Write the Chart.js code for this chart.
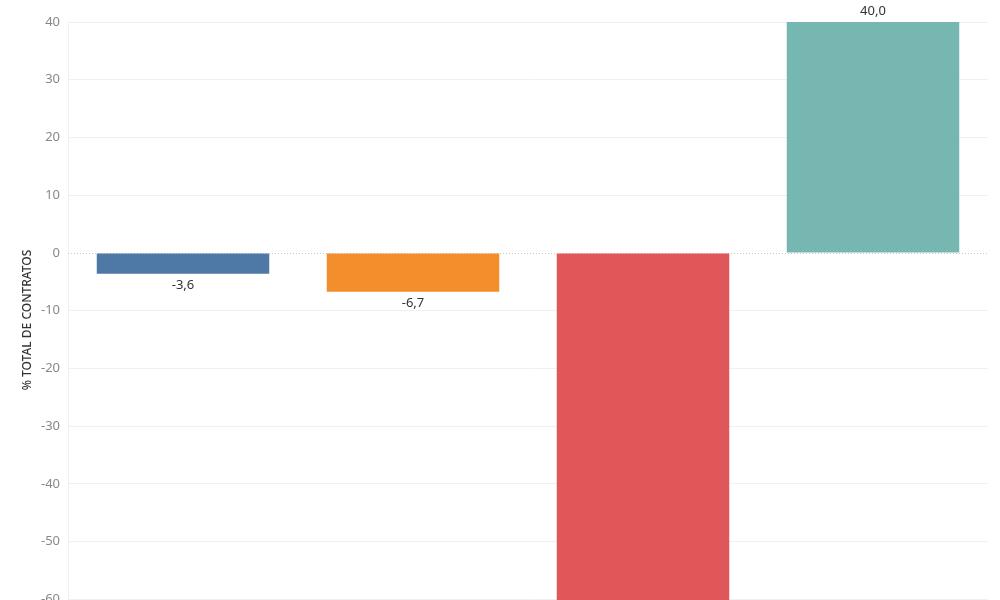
<!DOCTYPE html>
<html>
<head>
<meta charset="utf-8">
<script src="https://cdn.jsdelivr.net/npm/chart.js@4.4.1/dist/chart.umd.min.js"></script>
<style>
  html, body { margin: 0; padding: 0; background: #fff; overflow: hidden; }
  #wrap { width: 1000px; height: 673px; }
</style>
</head>
<body>
<div id="wrap"><canvas id="bars"></canvas></div>
<script>
// values (the red bar runs past the bottom edge)
const categories = ['A', 'B', 'C', 'D'];
const values = [-3.6, -6.7, -75.0, 40.0];
const barColors = ['#4e79a7', '#f28e2b', '#e15759', '#76b7b2'];
const yTicks = [40, 30, 20, 10, 0, -10, -20, -30, -40, -50, -60, -70];
const yTitle = '% TOTAL DE CONTRATOS';

const fmt = v => v.toFixed(1).replace('.', ',');

// dotted zero line, value labels, axis title (centred on the visible part)
const extras = {
  id: 'extras',
  beforeDatasetsDraw(chart) {
    const { ctx, chartArea, scales } = chart;
    const y0 = Math.round(scales.y.getPixelForValue(0)) + 0.5;
    ctx.save();
    ctx.strokeStyle = '#c8c8c8';
    ctx.lineWidth = 1;
    ctx.setLineDash([1, 2]);
    ctx.beginPath();
    ctx.moveTo(chartArea.left, y0);
    ctx.lineTo(chartArea.right, y0);
    ctx.stroke();
    ctx.restore();
  },
  afterDatasetsDraw(chart) {
    const { ctx } = chart;
    const meta = chart.getDatasetMeta(0);
    ctx.save();
    ctx.font = '13px "Noto Sans", Lato, sans-serif';
    ctx.fillStyle = '#333';
    ctx.textAlign = 'center';
    ctx.textBaseline = 'middle';
    meta.data.forEach((bar, i) => {
      const v = values[i];
      const y = v < 0 ? bar.y + 12 : bar.y - 11;
      ctx.fillText(fmt(v), bar.x, y);
    });
    ctx.restore();

    ctx.save();
    ctx.translate(28, 320);
    ctx.rotate(-Math.PI / 2);
    ctx.font = '500 12px "Noto Sans", Lato, sans-serif';
    ctx.fillStyle = '#333';
    ctx.textAlign = 'center';
    ctx.textBaseline = 'middle';
    ctx.fillText(yTitle, 0, 0);
    ctx.restore();
  }
};

new Chart(document.getElementById('bars'), {
  type: 'bar',
  data: {
    labels: categories,
    datasets: [{
      data: values,
      backgroundColor: barColors,
      borderWidth: 0,
      categoryPercentage: 1,
      barPercentage: 0.75
    }]
  },
  options: {
    responsive: true,
    maintainAspectRatio: false,
    animation: false,
    layout: { padding: { top: 22, right: 12, bottom: 4, left: 21 } },
    plugins: { legend: { display: false }, tooltip: { enabled: false } },
    scales: {
      x: { display: false },
      y: {
        min: -70,
        max: 40,
        afterBuildTicks: s => { s.ticks = yTicks.map(v => ({ value: v })); },
        afterFit: s => { s.width = 47; },
        border: { display: true, color: '#f0f0f0' },
        grid: {
          color: c => (c.tick && c.tick.value === 0 ? 'rgba(0,0,0,0)' : '#f0f0f0'),
          drawTicks: false
        },
        ticks: {
          padding: 8,
          color: '#888',
          font: { family: '"Noto Sans", Lato, sans-serif', size: 13 }
        }
      }
    }
  },
  plugins: [extras]
});
</script>
</body>
</html>
